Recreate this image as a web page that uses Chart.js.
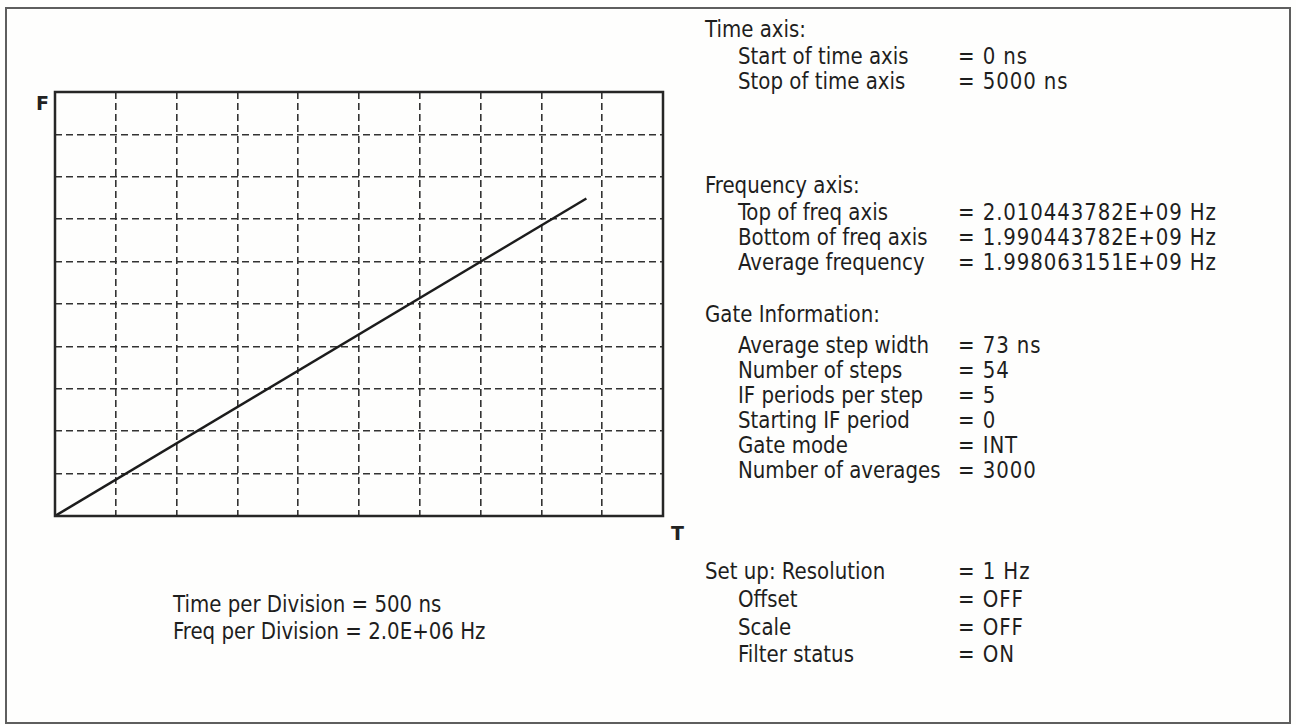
<!DOCTYPE html>
<html>
<head>
<meta charset="utf-8">
<script src="https://cdn.jsdelivr.net/npm/chart.js@4.4.1/dist/chart.umd.min.js"></script>
<style>
  body { margin: 0; background: #ffffff; }
  #page { position: relative; width: 1296px; height: 725px; overflow: hidden; background: #fefefd;
          font-family: "Liberation Sans Narrow", "DejaVu Sans Condensed", sans-serif; color: #1e1e1e; }
  #frame { position: absolute; left: 5px; top: 7px; width: 1282px; height: 713px; border: 2px solid #5e5e5e; }
  #chartBox { position: absolute; left: 50px; top: 87px; width: 618px; height: 434px; }
  .t { position: absolute; font-size: 22px; white-space: nowrap; line-height: 1; transform: scaleY(1.06); transform-origin: left top; }
  .v { letter-spacing: 0.9px; }
  .axl { position: absolute; font-family: "DejaVu Sans", sans-serif; font-weight: bold; font-size: 19px; color: #222; }
</style>
</head>
<body>
<div id="page">
  <div id="frame"></div>
  <div id="chartBox"><canvas id="grafico"></canvas></div>
  <div class="axl" style="left:36px; top:92px;">F</div>
  <div class="axl" style="left:671px; top:522px;">T</div>
</div>
<script>
// datos del barrido (tiempo en ns, frecuencia en Hz)
var tiempos = [0, 4370]
var frecuencias = [1.990443782e9, 2.005420e9]

var tiempoInicio = 0
var tiempoFin = 5000
var tiempoPorDiv = 500
var freqAbajo = 1.990443782e9
var freqArriba = 2.010443782e9
var freqPorDiv = 2.0e6

// textos del panel derecho: [etiqueta, valor, sangria, y]
var etiquetas = [
   ["Time axis:", "", 0, 18],
   ["Start of time axis", "= 0 ns", 1, 45],
   ["Stop of time axis", "= 5000 ns", 1, 70],
   ["Frequency axis:", "", 0, 174],
   ["Top of freq axis", "= 2.010443782E+09 Hz", 1, 201],
   ["Bottom of freq axis", "= 1.990443782E+09 Hz", 1, 226],
   ["Average frequency", "= 1.998063151E+09 Hz", 1, 251],
   ["Gate Information:", "", 0, 303],
   ["Average step width", "= 73 ns", 1, 334],
   ["Number of steps", "= 54", 1, 359],
   ["IF periods per step", "= 5", 1, 384],
   ["Starting IF period", "= 0", 1, 409],
   ["Gate mode", "= INT", 1, 434],
   ["Number of averages", "= 3000", 1, 459],
   ["Set up: Resolution", "= 1 Hz", 0, 560],
   ["Offset", "= OFF", 1, 588],
   ["Scale", "= OFF", 1, 616],
   ["Filter status", "= ON", 1, 643]
]
var notasAbajo = ["Time per Division = 500 ns", "Freq per Division = 2.0E+06 Hz"]

function addTexto(txt, x, y, clase){
   var d = document.createElement("div")
   d.className = "t" + (clase ? " " + clase : "")
   d.style.left = x + "px"
   d.style.top = y + "px"
   d.textContent = txt
   document.getElementById("page").appendChild(d)
}

for (var i = 0; i < etiquetas.length; i++) {
   var e = etiquetas[i]
   addTexto(e[0], e[2] ? 738 : 705, e[3])
   if (e[1]) addTexto(e[1], 958, e[3], "v")
}
addTexto(notasAbajo[0], 173, 593)
addTexto(notasAbajo[1], 173, 620)

// marco solido alrededor del area del grafico
const marco = {
   id: 'marco',
   afterDraw(chart) {
      const a = chart.chartArea
      const ctx = chart.ctx
      ctx.save()
      ctx.strokeStyle = '#262626'
      ctx.lineWidth = 2.5
      ctx.strokeRect(a.left, a.top, a.right - a.left, a.bottom - a.top)
      ctx.restore()
   }
}

const ctx = document.getElementById('grafico').getContext('2d')
new Chart(ctx, {
   type: 'scatter',
   data: {
      datasets: [{
         data: tiempos.map((t, i) => ({x: t, y: frecuencias[i]})),
         showLine: true,
         borderColor: '#1c1c1c',
         borderWidth: 2.5,
         pointRadius: 0
      }]
   },
   options: {
      responsive: true,
      maintainAspectRatio: false,
      animation: false,
      layout: { padding: 5 },
      plugins: { legend: { display: false }, tooltip: { enabled: false } },
      scales: {
         x: {
            type: 'linear', min: tiempoInicio, max: tiempoFin,
            ticks: { display: false, stepSize: tiempoPorDiv },
            grid: { color: '#333333', lineWidth: 1.6, drawTicks: false },
            border: { display: false, dash: [7, 4] }
         },
         y: {
            type: 'linear', min: freqAbajo, max: freqArriba,
            ticks: { display: false, stepSize: freqPorDiv },
            grid: { color: '#333333', lineWidth: 1.6, drawTicks: false },
            border: { display: false, dash: [7, 4] }
         }
      }
   },
   plugins: [marco]
})
</script>
</body>
</html>
